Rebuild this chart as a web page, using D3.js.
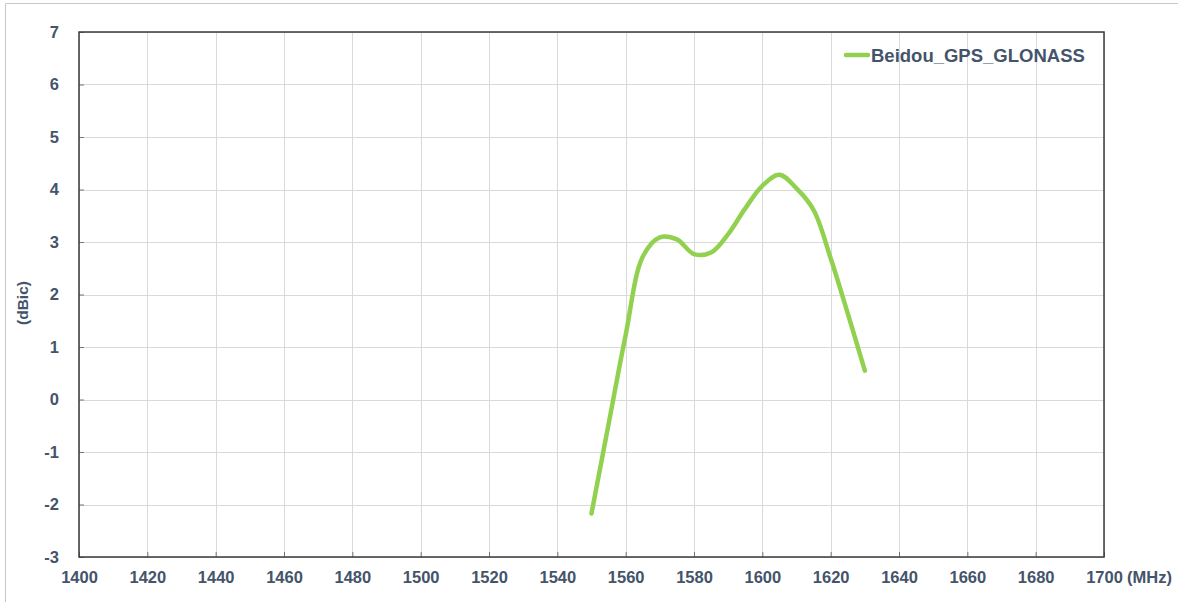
<!DOCTYPE html>
<html>
<head>
<meta charset="utf-8">
<script src="https://cdn.jsdelivr.net/npm/d3@7"></script>
<style>
  html, body { margin: 0; padding: 0; background: #fff; }
  svg { display: block; font-family: "Liberation Sans", Arial, sans-serif; }
</style>
</head>
<body>
<div class="chart"></div>
<script>
// data
const seriesName = 'Beidou_GPS_GLONASS';
const freqs = [1550, 1555, 1560, 1565, 1570, 1575, 1580, 1585, 1590, 1595, 1600, 1605, 1610, 1615, 1620, 1625, 1630];
const gains = [-2.17, -0.47, 1.23, 2.72, 3.09, 3.05, 2.77, 2.80, 3.15, 3.64, 4.07, 4.28, 4.02, 3.61, 2.69, 1.64, 0.55];
const xTicks = [1400, 1420, 1440, 1460, 1480, 1500, 1520, 1540, 1560, 1580, 1600, 1620, 1640, 1660, 1680, 1700];
const yTicks = [-3, -2, -1, 0, 1, 2, 3, 4, 5, 6, 7];

const W = 1178, H = 602;
const pLeft = 79, pRight = 1104, pTop = 32, pBottom = 557;
const txt = '#44546a';
const labelBase = 583;

const x = d3.scaleLinear().domain([1400, 1700]).range([pLeft, pRight]);
const y = d3.scaleLinear().domain([-3, 7]).range([pBottom, pTop]);

const svg = d3.select('.chart').append('svg')
    .attr('width', W).attr('height', H);

// outer frame (left and top edges visible)
svg.append('path')
    .attr('d', `M5.5,${H} V3.5 H${W}`)
    .attr('fill', 'none')
    .attr('stroke', '#c8c8c8')
    .attr('stroke-width', 1);

// grid
svg.append('g').selectAll('line.h').data(yTicks)
    .join('line').attr('class', 'h')
        .attr('x1', pLeft).attr('x2', pRight)
        .attr('y1', d => Math.round(y(d)) + 0.5).attr('y2', d => Math.round(y(d)) + 0.5)
        .attr('stroke', '#d9d9d9');

svg.append('g').selectAll('line.v').data(xTicks)
    .join('line').attr('class', 'v')
        .attr('y1', pTop).attr('y2', pBottom)
        .attr('x1', d => Math.round(x(d)) + 0.5).attr('x2', d => Math.round(x(d)) + 0.5)
        .attr('stroke', '#d9d9d9');

// axes with short inner ticks
svg.append('g')
    .attr('transform', `translate(0,${pBottom})`)
    .call(d3.axisBottom(x).tickValues(xTicks).tickSize(-5).tickFormat(d => String(d)))
    .call(g => {
        g.select('.domain').remove();
        g.selectAll('.tick line').attr('stroke', '#777');
        g.selectAll('text')
            .attr('y', labelBase - pBottom)
            .attr('dy', null)
            .attr('fill', txt)
            .style('font-size', '16.5px')
            .style('font-weight', 'bold');
    });

svg.append('g')
    .attr('transform', `translate(${pLeft},0)`)
    .call(d3.axisLeft(y).tickValues(yTicks).tickSize(-5).tickPadding(20).tickFormat(d => String(d)))
    .call(g => {
        g.select('.domain').remove();
        g.selectAll('.tick line').attr('stroke', '#777');
        g.selectAll('text')
            .attr('fill', txt)
            .style('font-size', '16.5px')
            .style('font-weight', 'bold');
    });

// plot border
svg.append('rect')
    .attr('x', pLeft).attr('y', pTop)
    .attr('width', pRight - pLeft).attr('height', pBottom - pTop)
    .attr('fill', 'none')
    .attr('stroke', '#3a3a3a')
    .attr('stroke-width', 1.5);

// unit labels
svg.append('text')
    .attr('x', pRight + 23).attr('y', labelBase)
    .attr('fill', txt)
    .style('font-size', '16.5px')
    .style('font-weight', 'bold')
    .text('(MHz)');

svg.append('text')
    .attr('transform', `translate(28,303) rotate(-90)`)
    .attr('text-anchor', 'middle')
    .attr('fill', txt)
    .style('font-size', '15.5px')
    .style('font-weight', 'bold')
    .text('(dBic)');

// series
const pts = freqs.map((f, i) => [f, gains[i]]);
svg.append('path')
    .datum(pts)
    .attr('fill', 'none')
    .attr('stroke', '#92d050')
    .attr('stroke-width', 4.5)
    .attr('stroke-linecap', 'round')
    .attr('stroke-linejoin', 'round')
    .attr('d', d3.line().x(d => x(d[0])).y(d => y(d[1])).curve(d3.curveCatmullRom.alpha(0.5)));

// legend
const lg = svg.append('g').attr('transform', 'translate(846,55)');
lg.append('line')
    .attr('x1', 0).attr('x2', 22)
    .attr('stroke', '#92d050')
    .attr('stroke-width', 4.5)
    .attr('stroke-linecap', 'round');
lg.append('text')
    .attr('x', 25).attr('y', 6.5)
    .attr('fill', txt)
    .style('font-size', '18.5px')
    .style('font-weight', 'bold')
    .text(seriesName);
</script>
</body>
</html>
